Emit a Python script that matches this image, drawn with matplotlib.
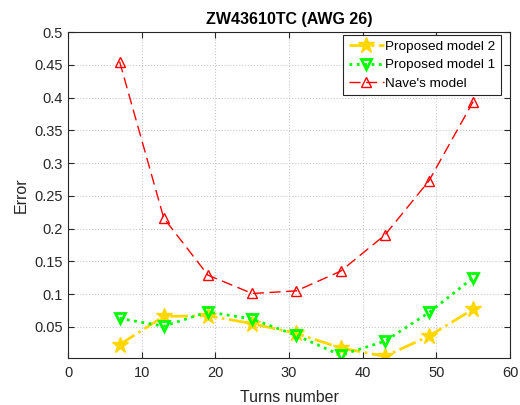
import matplotlib
matplotlib.use("Agg")
import matplotlib.pyplot as plt

# ---------- DATA ----------
turns = [7, 13, 19, 25, 31, 37, 43, 49, 55]
err_model2 = [0.023, 0.066, 0.067, 0.055, 0.040, 0.018, 0.005, 0.036, 0.077]
err_model1 = [0.063, 0.051, 0.073, 0.062, 0.037, 0.007, 0.028, 0.072, 0.125]
err_nave = [0.455, 0.216, 0.129, 0.101, 0.105, 0.135, 0.190, 0.273, 0.394]

plt.rcParams["font.family"] = ["Liberation Sans", "DejaVu Sans"]

fig = plt.figure(figsize=(5.2, 4.05), dpi=100)
ax = fig.add_axes([0.1308, 0.1168, 0.85, 0.804])

ax.plot(turns, err_model2, color="#FFD700", linestyle="-.", linewidth=2,
        marker="*", markersize=12, label="Proposed model 2")
ax.plot(turns, err_model1, color="#00FF00", linestyle=":", linewidth=2,
        marker="v", markersize=7, markerfacecolor="none", markeredgewidth=2,
        label="Proposed model 1")
ax.plot(turns, err_nave, color="#FF0000", linestyle=(0, (8, 4)), linewidth=1,
        marker="^", markersize=7, markerfacecolor="none", markeredgewidth=1,
        label="Nave's model")

ax.set_xlim(0, 60)
ax.set_ylim(0.003, 0.5)
ax.set_xticks([0, 10, 20, 30, 40, 50, 60])
ax.set_yticks([0.05, 0.1, 0.15, 0.2, 0.25, 0.3, 0.35, 0.4, 0.45, 0.5])
ax.set_yticklabels(["0.05", "0.1", "0.15", "0.2", "0.25", "0.3", "0.35",
                    "0.4", "0.45", "0.5"])
ax.tick_params(direction="in", length=4, labelsize=10.5, colors="#262626",
               top=True, right=True)
ax.tick_params(axis="x", pad=6)
ax.grid(True, color="#c8c8c8", linestyle=":", linewidth=0.8)
for s in ax.spines.values():
    s.set_color("#262626")
    s.set_linewidth(0.8)

ax.set_xlabel("Turns number", fontsize=11.5, color="#262626", labelpad=7)
ax.set_ylabel("Error", fontsize=11.5, color="#262626", labelpad=4)
ax.set_title("ZW43610TC (AWG 26)", fontsize=11.5, fontweight="bold", pad=6)

leg = ax.legend(loc="upper right", bbox_to_anchor=(0.979, 0.991),
                fontsize=9.7, fancybox=False, framealpha=1,
                edgecolor="#262626", handlelength=2.6, handletextpad=0.1,
                borderpad=0.4, labelspacing=0.45, borderaxespad=0)
leg.get_frame().set_linewidth(0.8)

fig.savefig("out.png", dpi=100)
plt.close(fig)
